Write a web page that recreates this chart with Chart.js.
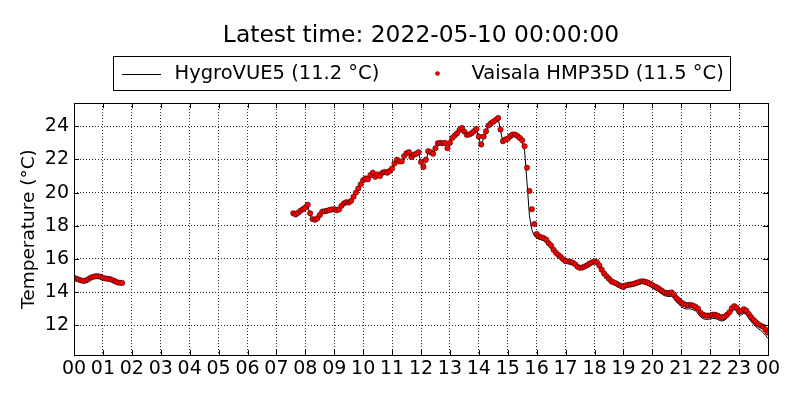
<!DOCTYPE html>
<html><head><meta charset="utf-8">
<script src="https://cdn.jsdelivr.net/npm/chart.js@4"></script>
<style>html,body{margin:0;padding:0;background:#fff}canvas{display:block}</style>
</head><body>
<canvas id="c" width="800" height="400"></canvas>
<script>
const titleText = 'Latest time: 2022-05-10 00:00:00';
const hygroLabel = 'HygroVUE5 (11.2 °C)';
const vaisalaLabel = 'Vaisala HMP35D (11.5 °C)';
const yAxisTitle = 'Temperature (°C)';
const xTickLabels = ['00','01','02','03','04','05','06','07','08','09','10','11','12','13','14','15','16','17','18','19','20','21','22','23','00'];
const yTickValues = [12,14,16,18,20,22,24];
const stepMinutes = 5;
const seg1Start = '00:00';
const seg2Start = '07:35';

const hygroSeg1 = [14.83,14.78,14.73,14.68,14.63,14.68,14.76,14.85,14.9,14.93,14.93,14.9,14.83,14.8,14.78,14.76,14.7,14.63,14.56,14.53,14.52];
const vaisalaSeg1 = [14.86,14.8,14.75,14.7,14.66,14.7,14.78,14.87,14.92,14.95,14.95,14.92,14.85,14.82,14.8,14.78,14.72,14.65,14.58,14.56,14.55];

const hygroSeg2 = [
 18.7,18.62,18.75,18.88,18.98,19.1,
 19.2,18.65,18.32,18.3,18.42,18.62,18.82,18.85,18.88,18.92,18.95,18.98,
 18.88,18.95,19.15,19.32,19.4,19.35,19.48,19.72,19.98,20.22,20.48,20.72,
 20.82,20.75,21.0,21.18,20.9,21.05,20.95,21.15,21.22,21.15,21.28,21.4,
 21.7,21.95,21.82,21.85,22.15,22.35,22.42,22.08,22.25,22.3,22.42,21.75,
 21.42,21.9,22.45,22.4,22.28,22.62,22.95,22.98,22.92,22.98,22.6,22.95,
 23.25,23.4,23.55,23.75,23.88,23.62,23.42,23.45,23.55,23.65,23.8,23.3,
 22.8,23.3,23.65,24.0,24.15,24.25,24.35,24.48,23.75,23.05,23.15,23.22,
 23.38,23.48,23.48,23.38,23.25,23.05,22.5,20.6,18.6,17.75,17.4,17.25,
 17.2,17.15,17.1,17.0,16.8,16.62,16.4,16.22,16.1,15.98,15.85,15.75,
 15.72,15.68,15.65,15.55,15.4,15.35,15.38,15.45,15.52,15.62,15.7,15.78,
 15.68,15.45,15.2,14.98,14.82,14.68,14.52,14.45,14.38,14.3,14.22,14.18,
 14.28,14.32,14.33,14.35,14.4,14.45,14.5,14.52,14.48,14.42,14.35,14.25,
 14.15,14.08,13.98,13.88,13.78,13.75,13.72,13.75,13.6,13.4,13.25,13.12,
 13.02,12.98,12.98,12.98,12.92,12.85,12.72,12.5,12.4,12.35,12.35,12.38,
 12.4,12.4,12.35,12.28,12.25,12.3,12.42,12.58,12.82,12.95,12.85,12.6,
 12.62,12.72,12.65,12.42,12.22,12.05,11.9,11.78,11.68,11.55,11.38,11.2
];
const vaisalaSeg2 = [
 18.75,18.68,18.78,18.9,19.0,19.1,
 19.27,18.75,18.4,18.36,18.45,18.65,18.85,18.88,18.9,18.95,18.98,19.0,
 18.93,18.98,19.2,19.35,19.42,19.4,19.5,19.75,20.0,20.25,20.5,20.75,
 20.85,20.8,21.05,21.2,20.95,21.1,21.0,21.2,21.25,21.2,21.3,21.45,
 21.75,21.98,21.88,21.88,22.2,22.38,22.44,22.14,22.28,22.34,22.44,21.84,
 21.54,21.98,22.5,22.44,22.34,22.68,22.98,23.0,22.98,23.0,22.68,23.0,
 23.3,23.44,23.58,23.78,23.9,23.68,23.48,23.5,23.58,23.7,23.84,23.38,
 22.9,23.38,23.7,24.04,24.18,24.28,24.38,24.5,23.8,23.1,23.2,23.25,
 23.4,23.5,23.5,23.42,23.3,23.15,22.8,21.5,20.1,19.0,18.1,17.5,
 17.35,17.3,17.25,17.15,16.95,16.8,16.55,16.37,16.24,16.11,15.97,15.86,
 15.85,15.81,15.77,15.67,15.52,15.46,15.48,15.55,15.62,15.72,15.79,15.85,
 15.8,15.6,15.35,15.12,14.95,14.8,14.65,14.58,14.52,14.43,14.36,14.3,
 14.4,14.44,14.45,14.48,14.53,14.58,14.63,14.65,14.62,14.57,14.5,14.42,
 14.33,14.27,14.17,14.07,13.97,13.94,13.94,13.97,13.84,13.63,13.5,13.37,
 13.28,13.22,13.22,13.22,13.17,13.1,12.99,12.75,12.63,12.58,12.57,12.59,
 12.63,12.63,12.58,12.5,12.47,12.52,12.63,12.78,13.02,13.15,13.05,12.82,
 12.86,12.96,12.88,12.67,12.48,12.32,12.18,12.06,11.97,11.9,11.72,11.55
];

function toHours(s){const p=s.split(':').map(Number);return p[0]+p[1]/60;}
function buildPoints(start, values){const t0=toHours(start);return values.map((v,i)=>({x:t0+i*stepMinutes/60,y:v}));}
function series(a,b){
  const p1=buildPoints(seg1Start,a), p2=buildPoints(seg2Start,b);
  const gapX=(p1[p1.length-1].x+p2[0].x)/2;
  return p1.concat([{x:gapX,y:null}],p2);
}

const FONT='DejaVu Sans';
Chart.defaults.font.family=FONT;
Chart.defaults.color='#000';

const framePlugin={
  id:'frame',
  afterDatasetsDraw(chart){
    const {ctx,chartArea:a,scales}=chart;
    ctx.save();
    ctx.strokeStyle='#000';ctx.lineWidth=1;
    const L=5;
    ctx.beginPath();
    scales.x.ticks.forEach(t=>{const px=Math.round(scales.x.getPixelForValue(t.value))+0.5;
      ctx.moveTo(px,a.bottom);ctx.lineTo(px,a.bottom-L);ctx.moveTo(px,a.top);ctx.lineTo(px,a.top+L);});
    scales.y.ticks.forEach(t=>{const py=Math.round(scales.y.getPixelForValue(t.value))+0.5;
      ctx.moveTo(a.left,py);ctx.lineTo(a.left+L,py);ctx.moveTo(a.right,py);ctx.lineTo(a.right-L,py);});
    ctx.stroke();
    ctx.strokeRect(Math.round(a.left)+0.5,Math.round(a.top)+0.5,Math.round(a.right-a.left),Math.round(a.bottom-a.top));
    ctx.restore();
  }
};

const legendPlugin={
  id:'boxLegend',
  afterDraw(chart){
    const {ctx,chartArea:a}=chart;
    const ds=chart.data.datasets;
    const cx=(a.left+a.right)/2;
    const bx=Math.round(cx-308.5)+0.5, by=56.5, bw=617, bh=34, my=by+bh/2;
    ctx.save();
    ctx.fillStyle='#fff';ctx.fillRect(bx,by,bw,bh);
    ctx.strokeStyle='#000';ctx.lineWidth=1;ctx.strokeRect(bx,by,bw,bh);
    ctx.beginPath();ctx.moveTo(bx+8.5,Math.round(my)+0.5);ctx.lineTo(bx+47.5,Math.round(my)+0.5);ctx.stroke();
    ctx.beginPath();ctx.arc(bx+324,my,2.1,0,Math.PI*2);ctx.fillStyle='#ff0000';ctx.fill();
    ctx.lineWidth=0.4;ctx.strokeStyle='#000';ctx.stroke();
    ctx.fillStyle='#000';ctx.font='19.5px "'+FONT+'"';ctx.textBaseline='middle';ctx.textAlign='left';
    ctx.fillText(ds[0].label,bx+61,my);
    ctx.fillText(ds[1].label,bx+358,my);
    ctx.restore();
  }
};

const gridOpts={color:'rgba(0,0,0,0.85)',lineWidth:1,drawTicks:false};

new Chart(document.getElementById('c'),{
  type:'line',
  data:{datasets:[
    {label:hygroLabel,data:series(hygroSeg1,hygroSeg2),borderColor:'#000',borderWidth:1,pointRadius:0,fill:false,tension:0,spanGaps:false,order:1},
    {label:vaisalaLabel,data:series(vaisalaSeg1,vaisalaSeg2),showLine:false,pointRadius:2.7,pointBackgroundColor:'#ff0000',pointBorderColor:'#000',pointBorderWidth:0.5,order:0}
  ]},
  options:{
    responsive:false,animation:false,
    layout:{padding:{left:0,right:32,top:0,bottom:0}},
    plugins:{
      legend:{display:false},tooltip:{enabled:false},
      title:{display:true,text:titleText,fullSize:false,color:'#000',font:{size:23.4,weight:'normal'},padding:{top:22,bottom:53}}
    },
    scales:{
      x:{type:'linear',min:0,max:24,
        afterBuildTicks:s=>{s.ticks=xTickLabels.map((_,i)=>({value:i}));},
        ticks:{callback:(v,i)=>xTickLabels[i],font:{size:19},color:'#000',padding:3,maxRotation:0,autoSkip:false},
        grid:gridOpts,border:{display:false,dash:[1,2]},
        afterFit:s=>{s.height=45;}},
      y:{type:'linear',min:10.2,max:25.4,
        afterBuildTicks:s=>{s.ticks=yTickValues.map(v=>({value:v}));},
        ticks:{font:{size:19},color:'#000',padding:5},
        grid:gridOpts,border:{display:false,dash:[1,2]},
        title:{display:true,text:yAxisTitle,color:'#000',font:{size:18.5},padding:{top:18,bottom:0}},
        afterFit:s=>{s.width=74;}}
    }
  },
  plugins:[framePlugin,legendPlugin]
});
</script>
</body></html>
